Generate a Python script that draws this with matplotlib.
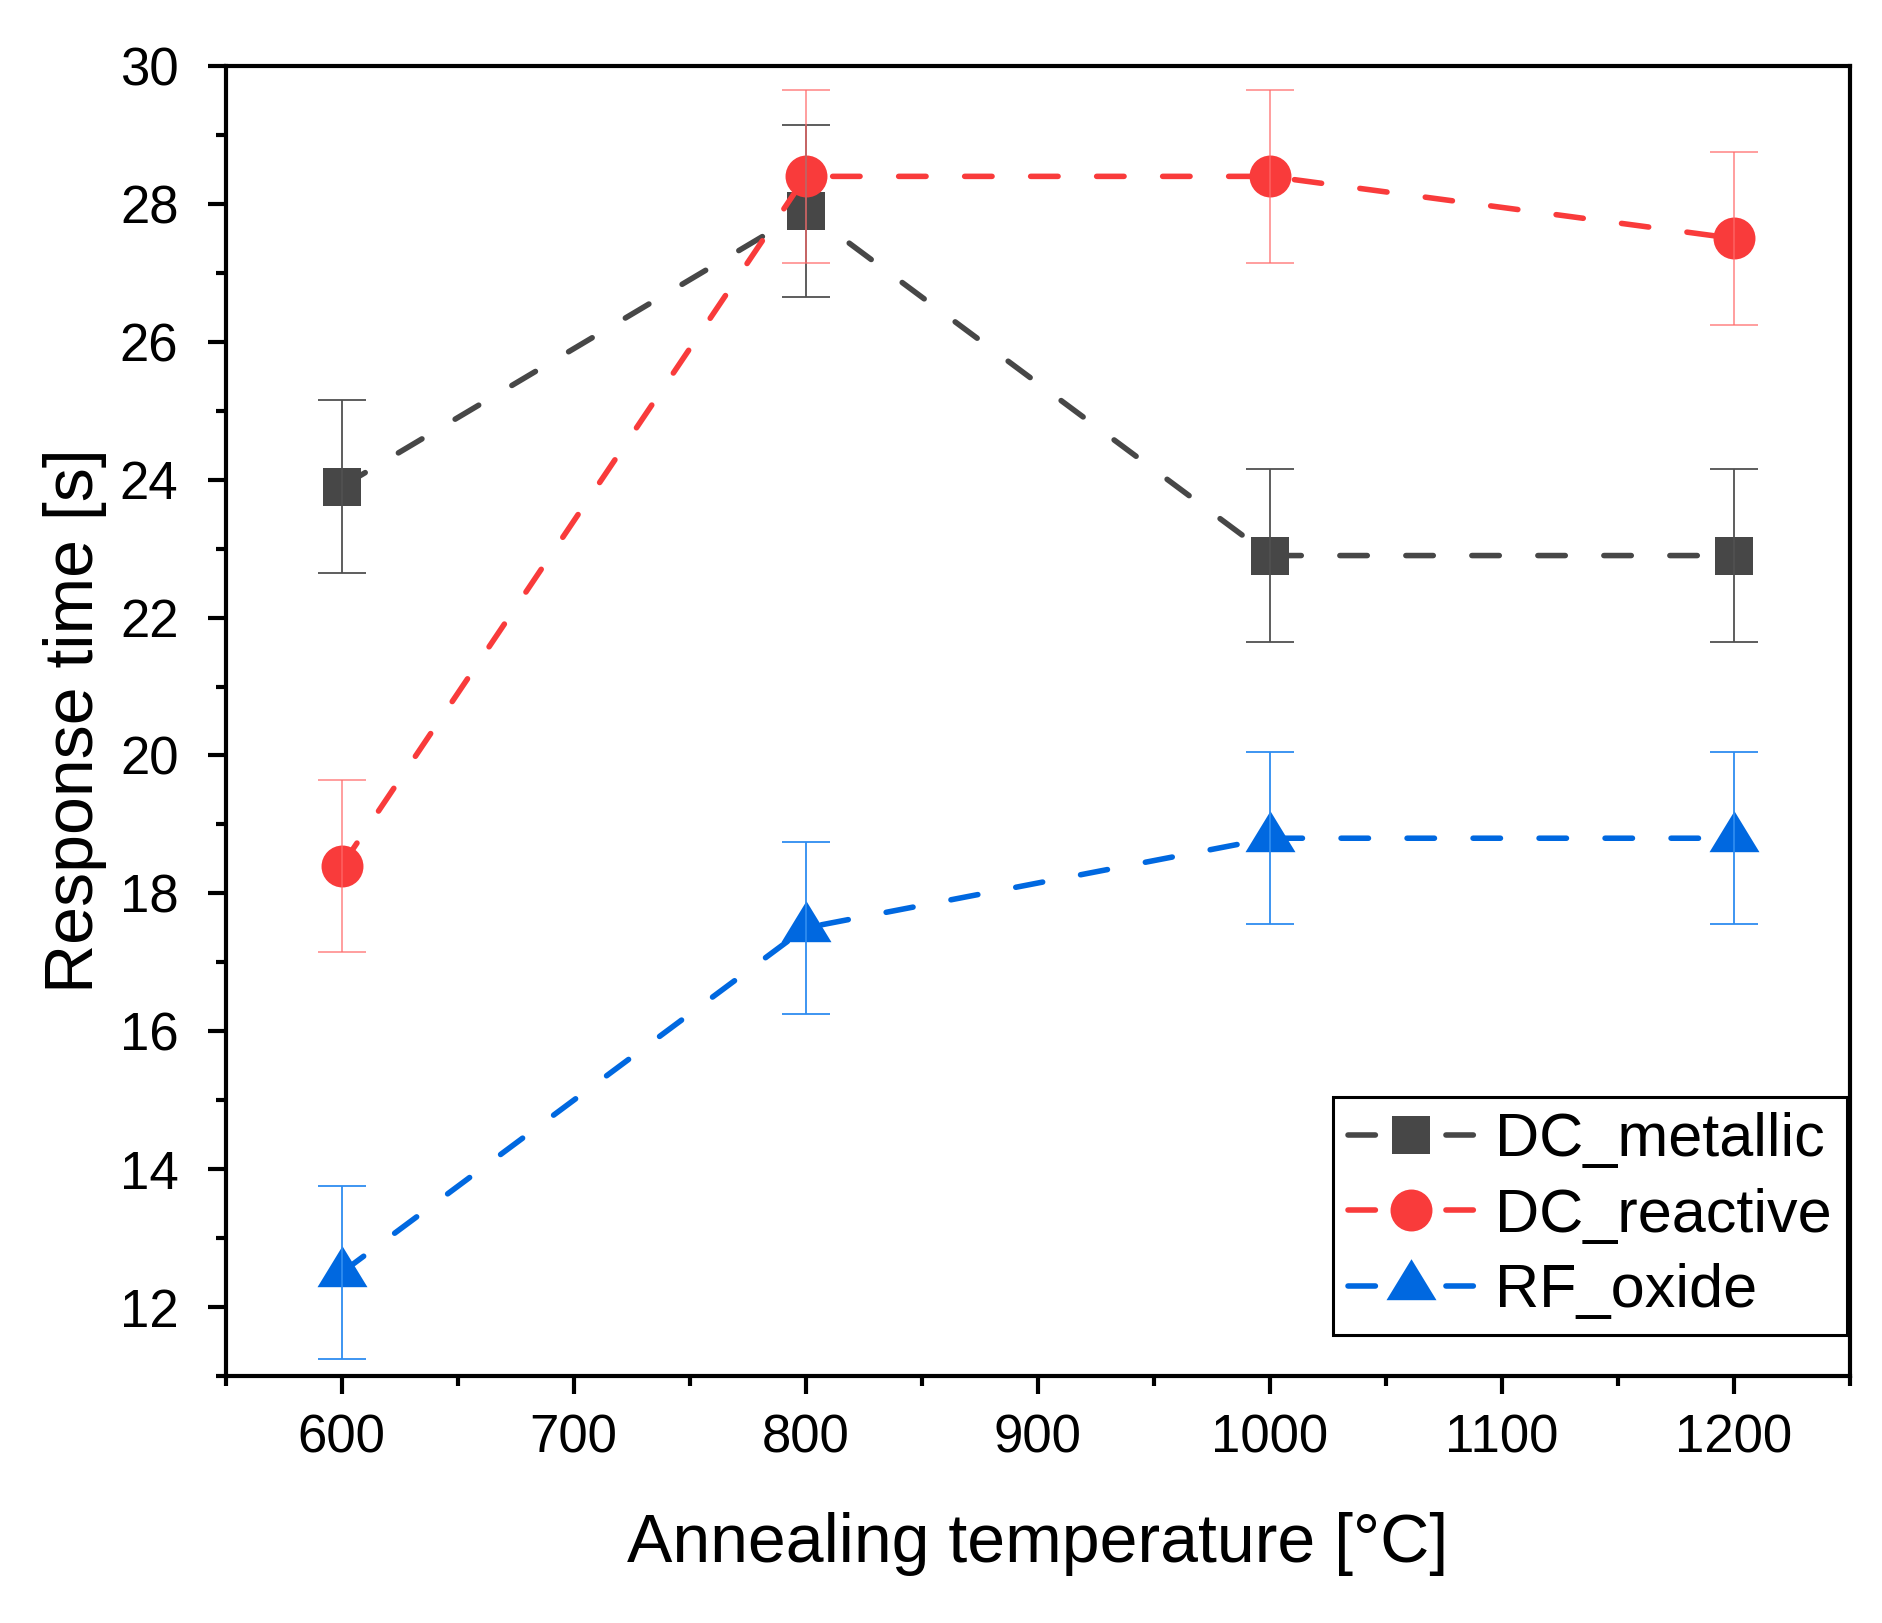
import matplotlib
matplotlib.use("Agg")
import matplotlib.pyplot as plt
from matplotlib.lines import Line2D
from matplotlib.ticker import MultipleLocator

plt.rcParams['font.family'] = ['Liberation Sans', 'DejaVu Sans']

temps = [600, 800, 1000, 1200]
dc_metallic = [23.9, 27.9, 22.9, 22.9]
dc_reactive = [18.4, 28.4, 28.4, 27.5]
rf_oxide = [12.5, 17.5, 18.8, 18.8]
err_metallic = [1.25, 1.25, 1.25, 1.25]
err_reactive = [1.25, 1.25, 1.25, 1.25]
err_oxide = [1.25, 1.25, 1.25, 1.25]
names = ["DC_metallic", "DC_reactive", "RF_oxide"]

gray = '#474747'
red = '#F93B3B'
blue = '#0068E0'

# triangle centred on its centroid, like Origin does it
tri = [(0, 27.3), (-25, -13.7), (25, -13.7), (0, 27.3)]

fig = plt.figure(figsize=(18.82, 16.23), dpi=100)
ax = fig.add_axes([0.1199, 0.1522, 0.8630, 0.8071])

lw = 4.0
dash = (4.93, 6.95)
series = [
    (dc_metallic, err_metallic, gray, 's', 27.4, '#505050', 1.0),
    (dc_reactive, err_reactive, red, 'o', 30.2, '#FF6A6A', 0.7),
    (rf_oxide, err_oxide, blue, tri, 39.3, '#2E8CF0', 1.0),
]
for vals, errs, col, mk, ms, ecol, ea in series:
    ax.plot(temps, vals, color=col, lw=lw, ls=(0, dash), dash_capstyle='round',
            marker=mk, markersize=ms, markeredgewidth=0, markerfacecolor=col, zorder=3)
for vals, errs, col, mk, ms, ecol, ea in series:
    ax.errorbar(temps, vals, yerr=errs, fmt='none', ecolor=ecol, elinewidth=1.3,
                capsize=17, capthick=1.3, alpha=ea, zorder=4)

ax.set_xlim(550, 1250)
ax.set_ylim(11, 30)
ax.xaxis.set_major_locator(MultipleLocator(100))
ax.xaxis.set_minor_locator(MultipleLocator(50))
ax.yaxis.set_major_locator(MultipleLocator(2))
ax.yaxis.set_minor_locator(MultipleLocator(1))
ax.tick_params(which='both', direction='out', width=3, top=False, right=False, labelsize=38)
ax.tick_params(which='major', length=13)
ax.tick_params(which='minor', length=7)
ax.tick_params(axis='x', which='major', pad=14)
ax.tick_params(axis='y', which='major', pad=21)
for s in ax.spines.values():
    s.set_linewidth(3)

ax.set_xlabel("Annealing temperature [°C]", fontsize=49, va='center')
ax.xaxis.set_label_coords(0.5, -0.128)
ax.set_ylabel("Response time [s]", fontsize=49, va='center', ha='center')
ax.yaxis.set_label_coords(-0.093, 0.5)

handles = []
for vals, errs, col, mk, ms, ecol, ea in series:
    handles.append(Line2D([], [], color=col, lw=lw, ls=(0, (4.93, 12.7)), dash_capstyle='round',
                          marker=mk, markersize=ms, markeredgewidth=0, markerfacecolor=col))
leg = ax.legend(handles, names, loc='upper left', bbox_to_anchor=(0.7083, 0.3241),
                bbox_transform=fig.transFigure, borderaxespad=0, fontsize=44,
                handlelength=2.05, handletextpad=0.35, borderpad=0.25, labelspacing=0.3,
                fancybox=False, framealpha=1, edgecolor='black')
leg.get_frame().set_linewidth(2.2)

fig.savefig("out.png", dpi=100)
